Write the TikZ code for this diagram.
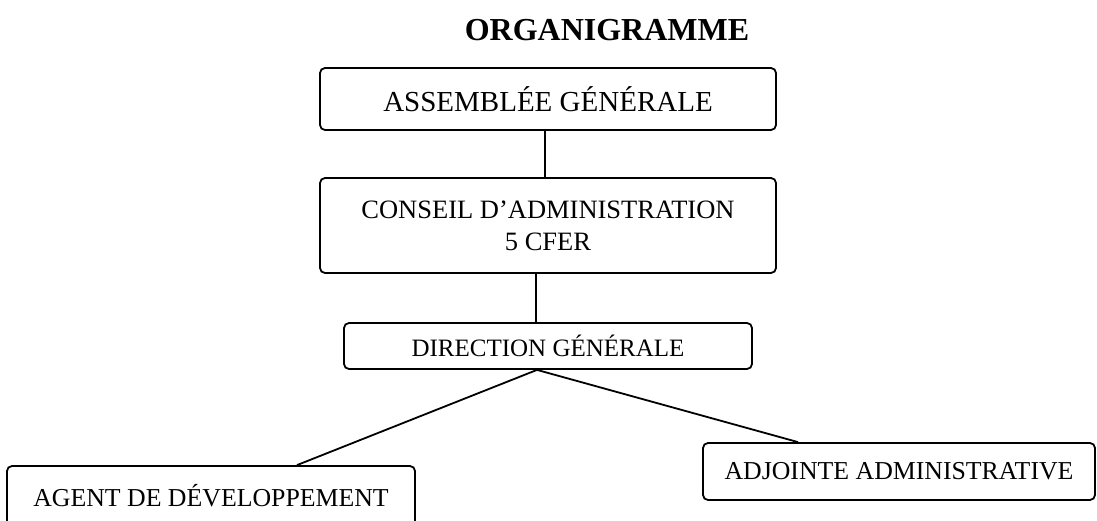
\documentclass[tikz,border=0pt]{standalone}
\usepackage{fontspec}
\setmainfont{Liberation Serif}
\begin{document}
\begin{tikzpicture}[x=1pt,y=-1pt,
  box/.style={draw,line width=1.8pt,rounded corners=5pt,inner sep=0pt,align=center},
  link/.style={line width=1.8pt}]
\useasboundingbox (0,0) rectangle (1097,521);
\node[font=\fontsize{32}{36}\selectfont\bfseries] (title) at (607,30) {ORGANIGRAMME};
\node[box,minimum width=456pt,minimum height=62pt,font=\fontsize{29}{32}\selectfont] (ag) at (548,99) {ASSEMBLÉE GÉNÉRALE};
\node[box,minimum width=456pt,minimum height=95pt,font=\fontsize{26.5}{32}\selectfont] (ca) at (548,225.5) {CONSEIL D’ADMINISTRATION\\5 CFER};
\node[box,minimum width=408pt,minimum height=46pt,font=\fontsize{25}{30}\selectfont] (dg) at (548,346) {DIRECTION GÉNÉRALE};
\node[box,minimum width=408pt,minimum height=60pt,font=\fontsize{25.8}{30}\selectfont] (agent) at (211,496) {\raisebox{2pt}{AGENT DE DÉVELOPPEMENT}};
\node[box,minimum width=392pt,minimum height=57pt,font=\fontsize{25.8}{30}\selectfont] (adj) at (899,471.5) {ADJOINTE ADMINISTRATIVE};
\draw[link] ([xshift=-3pt]ag.south) -- ([xshift=-3pt]ca.north);
\draw[link] ([xshift=-12pt]ca.south) -- ([xshift=-12pt]dg.north);
\draw[link] ([xshift=-11pt]dg.south) -- ([xshift=86pt]agent.north);
\draw[link] ([xshift=-11pt]dg.south) -- ([xshift=-101pt]adj.north);
\end{tikzpicture}
\end{document}
